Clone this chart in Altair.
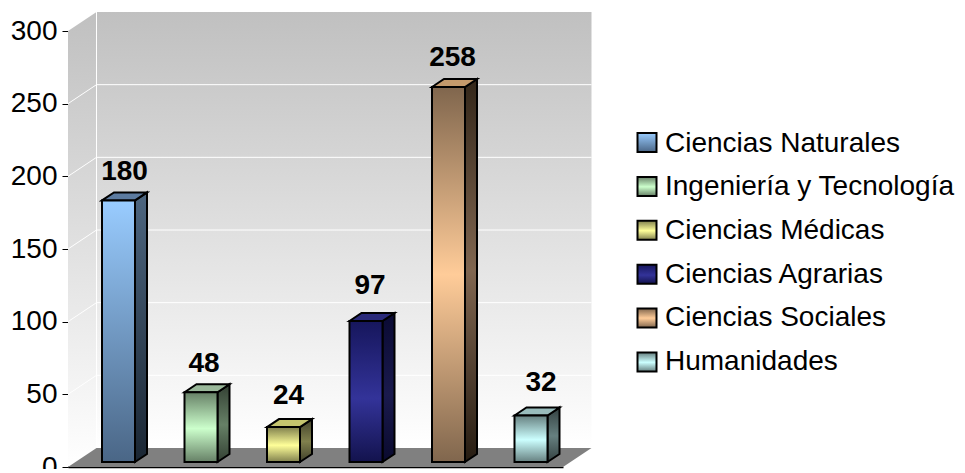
import altair as alt
import pandas as pd

# Chart values
categories = ["Ciencias Naturales", "Ingeniería y Tecnología", "Ciencias Médicas",
              "Ciencias Agrarias", "Ciencias Sociales", "Humanidades"]
values = [180, 48, 24, 97, 258, 32]
y_ticks = [0, 50, 100, 150, 200, 250, 300]
grid_levels = [50, 100, 150, 200, 250]

# Styles
front_stops = [
    [(0, "#99ccff"), (1, "#4a6686")],
    [(0, "#668066"), (0.52, "#ccffcc"), (1, "#668066")],
    [(0, "#80804d"), (0.52, "#ffff99"), (1, "#80804d")],
    [(0, "#16165c"), (0.55, "#333399"), (1, "#13134d")],
    [(0, "#80664d"), (0.5, "#ffcc99"), (1, "#80664d")],
    [(0, "#668080"), (0.52, "#ccffff"), (1, "#668080")],
]
side_stops = [
    [(0, "#4d6680"), (1, "#1a2633")],
    [(0, "#334033"), (0.52, "#668066"), (1, "#334033")],
    [(0, "#40402a"), (0.52, "#80804d"), (1, "#40402a")],
    [(0, "#0a0a33"), (0.55, "#1a1a4d"), (1, "#0a0a2e")],
    [(0, "#332619"), (0.5, "#806650"), (1, "#261c12")],
    [(0, "#334040"), (0.52, "#668080"), (1, "#334040")],
]
top_cols = ["#5c7ba0", "#9ab89a", "#c4c46e", "#2a2a7a", "#c49a6c", "#99bcbc"]
legend_cols = ["#6f94bd", "#99bf99", "#bfbf73", "#22226e", "#bf9973", "#99bfbf"]
label_x_shift = [0, -3, -1, -2, -2, 4]
label_gap = [12, 12, 15, 19, 13, 16]

W, H = 495, 436
UNIT = H / 300           # pixels per value unit
DX, DY = 28.5, 19        # wall depth
BDX, BDY = 12, 8         # bar depth
BW, STEP, X0, BASE = 33, 82.5, 34, 5


def u(px):
    return px / UNIT


def grad(stops):
    return {"gradient": "linear", "x1": 0, "y1": 0, "x2": 0, "y2": 1,
            "stops": [{"offset": o, "color": c} for o, c in stops]}


xs = alt.Scale(domain=[0, W], nice=False, zero=False)
ys = alt.Scale(domain=[0, 300], nice=False)
X = alt.X("x:Q", scale=xs, title=None,
          axis=alt.Axis(labels=False, ticks=False, grid=False, domainColor="black", domainWidth=1.5))
Y = alt.Y("y:Q", scale=ys, title=None,
          axis=alt.Axis(values=y_ticks, grid=False, domainColor="black", tickColor="black",
                        tickSize=6, labelFontSize=28, labelFont="Liberation Sans",
                        labelColor="black", labelPadding=5))


def area(rows, **mark):
    return alt.Chart(pd.DataFrame(rows, columns=["x", "y", "y2"])).mark_area(**mark).encode(
        x=X, y=Y, y2=alt.Y2("y2:Q"))


layers = []
# walls and floor
wall_stops = [(0, "#c0c0c0"), (1, "#ffffff")]
layers.append(area([(0, 300, 0), (DX, 300 + u(DY), u(DY))], fill=grad(wall_stops)))
layers.append(alt.Chart(pd.DataFrame([{"x": DX, "x2": W + DX, "y": 300 + u(DY), "y2": u(DY)}]))
              .mark_rect(fill=grad(wall_stops)).encode(x=X, x2="x2:Q", y=Y, y2="y2:Q"))
layers.append(area([(0, 0, 0), (DX, u(DY), 0), (W, u(DY), 0), (W + DX, u(DY), u(DY))], fill="#808080"))
# grid lines
rows = []
for lv in grid_levels:
    rows += [{"x": 0, "y": lv, "k": lv}, {"x": DX, "y": lv + u(DY), "k": lv},
             {"x": W + DX, "y": lv + u(DY), "k": lv}]
layers.append(alt.Chart(pd.DataFrame(rows)).mark_line(color="white", strokeWidth=1)
              .encode(x=X, y=Y, detail="k:N"))
layers.append(alt.Chart(pd.DataFrame([{"x": DX, "y": 300 + u(DY), "y2": u(DY)}]))
              .mark_rule(color="white", strokeWidth=1).encode(x=X, y=Y, y2="y2:Q"))

# bars
b0 = u(BASE)
for i, v in enumerate(values):
    l = X0 + i * STEP
    r = l + BW
    t = v + b0
    dy = u(BDY)
    st = dict(stroke="black", strokeWidth=2, strokeJoin="miter")
    layers.append(area([(r, t, b0), (r + BDX, t + dy, b0 + dy)], fill=grad(side_stops[i]), **st))
    layers.append(area([(l, t, t), (l + BDX, t + dy, t), (r, t + dy, t), (r + BDX, t + dy, t + dy)],
                       fill=top_cols[i], **st))
    layers.append(alt.Chart(pd.DataFrame([{"x": l, "x2": r, "y": t, "y2": b0}]))
                  .mark_rect(fill=grad(front_stops[i]), **st).encode(x=X, x2="x2:Q", y=Y, y2="y2:Q"))

# data labels
lab = pd.DataFrame({"x": [X0 + i * STEP + BW / 2 + BDX / 2 + label_x_shift[i] for i in range(6)],
                    "y": [v + b0 + u(BDY + label_gap[i]) for i, v in enumerate(values)],
                    "t": [str(v) for v in values]})
layers.append(alt.Chart(lab).mark_text(font="Liberation Sans", fontSize=28, fontWeight="bold",
                                       color="black", baseline="alphabetic")
              .encode(x=X, y=Y, text="t:N"))

# legend swatches
SW_L, SW_W, SW_TOP, SW_STEP, SW_H = 569.5, 19, 102, 43.9, 19
for i in range(6):
    top = H - (SW_TOP + i * SW_STEP)
    layers.append(alt.Chart(pd.DataFrame([{"x": SW_L, "x2": SW_L + SW_W, "y": u(top), "y2": u(top - SW_H)}]))
                  .mark_rect(fill=grad(front_stops[i]), stroke="black", strokeWidth=2)
                  .encode(x=X, x2="x2:Q", y=Y, y2="y2:Q"))

# real legend (labels)
leg = pd.DataFrame({"cat": categories, "x": [X0 + i * STEP for i in range(6)], "y": [b0] * 6})
layers.append(alt.Chart(leg).mark_square(opacity=0).encode(
    x=X, y=Y,
    color=alt.Color("cat:N", sort=categories,
                    scale=alt.Scale(domain=categories, range=legend_cols),
                    legend=alt.Legend(orient="none", legendX=569, legendY=98.5, title=None,
                                      symbolType="square", symbolSize=361, symbolOpacity=0,
                                      labelFontSize=28, labelFont="Liberation Sans",
                                      labelColor="black", labelOffset=0, rowPadding=15.7,
                                      padding=0, labelLimit=400))))

chart = alt.layer(*layers).properties(
    width=W, height=H,
    padding={"left": 60, "top": 23, "right": 394, "bottom": 2},
    autosize=alt.AutoSizeParams(type="none"),
).configure_view(stroke=None)

chart.save("out.html", embed_options={"renderer": "svg", "actions": False})
